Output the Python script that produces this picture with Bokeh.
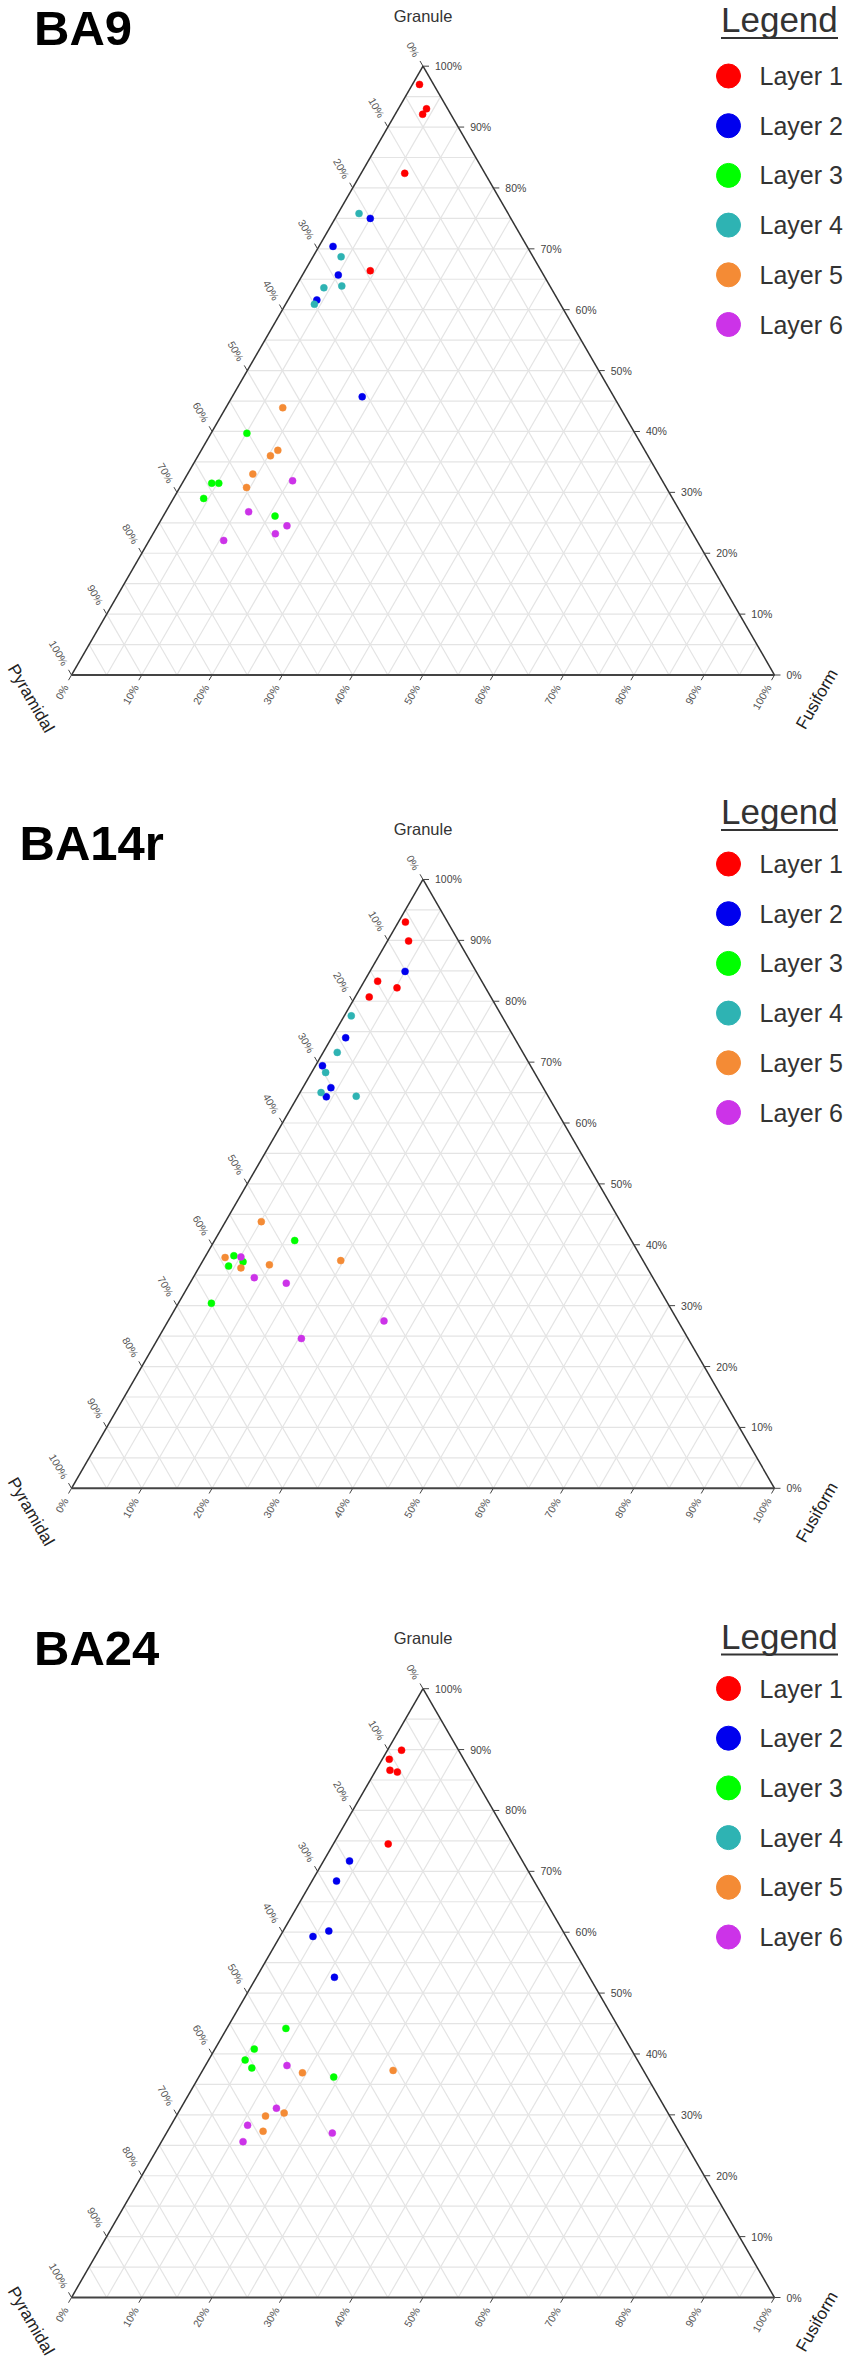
import math
from bokeh.plotting import figure
from bokeh.layouts import column
from bokeh.models import Range1d, ColumnDataSource
from bokeh.core.properties import value
from bokeh.embed import file_html
from bokeh.resources import INLINE

# ---------------- data ----------------
LAYER_NAMES = ["Layer 1", "Layer 2", "Layer 3", "Layer 4", "Layer 5", "Layer 6"]
LAYER_COLORS = ["#ff0000", "#0000ee", "#00ff00", "#2eb3b3", "#f48b35", "#cc33e8"]
AXIS_TITLES = ["Pyramidal", "Granule", "Fusiform"]
TICK_VALUES = [0, 10, 20, 30, 40, 50, 60, 70, 80, 90, 100]
TICK_LABELS = ["0%", "10%", "20%", "30%", "40%", "50%", "60%", "70%", "80%", "90%", "100%"]
PANEL_TITLES = ["BA9", "BA14r", "BA24"]

BA9_layer = [1, 1, 1, 1, 1, 2, 2, 2, 2, 2, 3, 3, 3, 3, 3, 4, 4, 4, 4, 4, 5, 5, 5, 5, 5, 6, 6, 6, 6, 6]
BA9_granule = [97.0, 93.0, 92.1, 82.4, 66.4, 75.0, 70.4, 65.7, 61.6, 45.7,
               39.7, 31.5, 31.5, 29.0, 26.1, 75.8, 68.7, 63.6, 63.9, 60.9,
               43.9, 36.9, 36.0, 33.0, 30.8, 31.9, 26.8, 24.5, 23.2, 22.1]
BA9_fusiform = [1.0, 4.0, 3.9, 6.2, 9.3, 5.0, 2.0, 5.1, 4.1, 18.5,
                5.1, 4.2, 5.2, 4.3, 15.9, 3.0, 4.0, 4.1, 6.5, 4.1,
                8.1, 10.9, 10.3, 9.3, 9.5, 15.5, 11.8, 18.4, 17.4, 10.6]
BA9_pyramidal = [2.0, 3.0, 4.0, 11.4, 24.3, 20.0, 27.6, 29.2, 34.3, 35.8,
                 55.2, 64.3, 63.3, 66.7, 58.0, 21.2, 27.3, 32.3, 29.6, 35.0,
                 48.0, 52.2, 53.7, 57.7, 59.7, 52.6, 61.4, 57.1, 59.4, 67.3]

BA14r_layer = [1, 1, 1, 1, 1, 2, 2, 2, 2, 2, 3, 3, 3, 3, 3, 4, 4, 4, 4, 4, 5, 5, 5, 5, 5, 6, 6, 6, 6, 6]
BA14r_granule = [93.0, 89.9, 83.3, 82.2, 80.7, 84.9, 74.0, 69.4, 65.8, 64.3,
                 40.7, 38.2, 37.2, 36.5, 30.4, 77.6, 71.6, 68.3, 65.0, 64.4,
                 43.8, 37.9, 36.2, 36.7, 37.4, 38.0, 34.6, 33.7, 27.5, 24.6]
BA14r_fusiform = [1.0, 3.0, 1.9, 5.2, 2.0, 5.0, 2.0, 1.0, 4.0, 4.1,
                  11.4, 4.0, 5.8, 4.1, 4.7, 1.0, 2.0, 2.0, 3.0, 8.3,
                  5.1, 2.9, 6.0, 9.8, 19.6, 5.1, 8.7, 13.7, 30.7, 20.4]
BA14r_pyramidal = [6.0, 7.1, 14.8, 12.6, 17.3, 10.1, 24.0, 29.6, 30.2, 31.6,
                   47.9, 57.8, 57.0, 59.4, 64.9, 21.4, 26.4, 29.7, 32.0, 27.3,
                   51.1, 59.2, 57.8, 53.5, 43.0, 56.9, 56.7, 52.6, 41.8, 55.0]

BA24_layer = [1, 1, 1, 1, 1, 2, 2, 2, 2, 2, 3, 3, 3, 3, 3, 5, 5, 5, 5, 5, 6, 6, 6, 6, 6]
BA24_granule = [89.9, 88.4, 86.6, 86.3, 74.5, 71.7, 68.4, 60.2, 59.3, 52.6,
                44.2, 40.8, 39.0, 37.7, 36.2, 36.9, 37.3, 29.8, 30.3, 27.3,
                38.1, 31.1, 28.3, 27.0, 25.6]
BA24_fusiform = [2.0, 1.0, 2.0, 3.2, 7.8, 3.7, 3.5, 6.5, 4.7, 11.1,
                 8.4, 5.6, 5.2, 6.8, 19.2, 14.4, 27.1, 12.7, 15.1, 13.6,
                 11.6, 13.6, 10.9, 23.6, 11.6]
BA24_pyramidal = [8.1, 10.6, 11.4, 10.5, 17.7, 24.6, 28.1, 33.3, 36.0, 36.3,
                  47.4, 53.6, 55.8, 55.5, 44.6, 48.7, 35.6, 57.5, 54.6, 59.1,
                  50.3, 55.3, 60.8, 49.4, 62.8]

# ---------------- layout (page pixels) ----------------
S = 703.0                 # pixels per unit side of the triangle
H = math.sqrt(3) / 2
LEFT_X = 71.0             # page x of the left vertex
FIG_W = 849
FONT = value("Liberation Sans")
TICK_COLOR = "#444444"

PANELS = [
    # fig_top, fig_h, base_y, title_x, title_base, legend_base, legend_first
    dict(top=0, h=760, base=674.5, tx=33.5, tb=45.0, lb=31.5, lf=75.5),
    dict(top=760, h=810, base=1487.8, tx=19.0, tb=860.0, lb=823.5, lf=863.5),
    dict(top=1570, h=789, base=2297.0, tx=33.5, tb=1665.0, lb=1648.0, lf=1688.0),
]


def make_panel(title, layer, gran, fus, pyr, cfg):
    top, fh, base = cfg["top"], cfg["h"], cfg["base"]
    base_s = base - top
    left_s = LEFT_X
    p = figure(width=FIG_W, height=fh,
               x_range=Range1d(-left_s / S, (FIG_W - left_s) / S),
               y_range=Range1d(-(fh - base_s) / S, base_s / S),
               x_axis_type=None, y_axis_type=None, toolbar_location=None,
               output_backend="svg", min_border=0, outline_line_color=None,
               background_fill_color="white", border_fill_color="white")

    def X(px):
        return (px - LEFT_X) / S

    def Y(py):
        return (base - py) / S

    d = 1.0 / S

    # grid every 5%
    gx, gy = [], []
    for k in range(1, 20):
        t = k / 20
        gx.append([t / 2, 1 - t / 2]); gy.append([t * H, t * H])
        gx.append([t, t + (1 - t) / 2]); gy.append([0, (1 - t) * H])
        gx.append([1 - t, (1 - t) / 2]); gy.append([0, (1 - t) * H])
    p.multi_line(gx, gy, line_color="#e4e4e4", line_width=1.2)

    # triangle edges
    p.multi_line([[0, 0.5], [0.5, 1]], [[0, H], [H, 0]], line_color="#333333", line_width=1.5)
    p.line([0, 1], [0, 0], line_color="#444444", line_width=2)

    # ticks and tick labels
    tx, ty = [], []
    lab = {"right": ([], [], []), "bottom": ([], [], []), "left": ([], [], [])}
    for tv, tl in zip(TICK_VALUES, TICK_LABELS):
        v = tv / 100
        # right axis (Granule)
        x0, y0 = 1 - v / 2, v * H
        tx.append([x0, x0 + 6 * d]); ty.append([y0, y0])
        lab["right"][0].append(x0 + 12 * d); lab["right"][1].append(y0); lab["right"][2].append(tl)
        # bottom axis (Fusiform)
        x0, y0 = v, 0.0
        dx, dy = -0.5, -H
        tx.append([x0, x0 + 6 * d * dx]); ty.append([y0, y0 + 6 * d * dy])
        lab["bottom"][0].append(x0 + 12 * d * dx); lab["bottom"][1].append(y0 + 12 * d * dy); lab["bottom"][2].append(tl)
        # left axis (Pyramidal)
        x0, y0 = (1 - v) / 2, (1 - v) * H
        dx, dy = -0.5, H
        tx.append([x0, x0 + 6 * d * dx]); ty.append([y0, y0 + 6 * d * dy])
        lab["left"][0].append(x0 + 12 * d * dx); lab["left"][1].append(y0 + 12 * d * dy); lab["left"][2].append(tl)
    p.multi_line(tx, ty, line_color="#444444", line_width=1)

    common = dict(text_font=FONT, text_font_size="10.5px", text_baseline="middle")
    p.text(x=lab["right"][0], y=lab["right"][1], text=lab["right"][2],
           text_align="left", text_color=TICK_COLOR, **common)
    p.text(x=lab["bottom"][0], y=lab["bottom"][1], text=lab["bottom"][2], angle=math.pi / 3,
           text_align="right", text_color="#555555", **common)
    p.text(x=lab["left"][0], y=lab["left"][1], text=lab["left"][2], angle=-math.pi / 3,
           text_align="right", text_color="#555555", **common)

    # axis titles
    p.text(x=[0.5], y=[H + 50.5 * d], text=[AXIS_TITLES[1]], text_font=FONT, text_font_size="16.5px",
           text_align="center", text_baseline="middle", text_color="#333333")
    p.text(x=[-40.5 * d], y=[-23.5 * d], text=[AXIS_TITLES[0]], angle=-math.pi / 3, text_font=FONT,
           text_font_size="17px", text_align="center", text_baseline="middle", text_color="#222222")
    p.text(x=[1 + 42.5 * d], y=[-24.0 * d], text=[AXIS_TITLES[2]], angle=math.pi / 3, text_font=FONT,
           text_font_size="17px", text_align="center", text_baseline="middle", text_color="#222222")

    # data points
    for i, (name, color) in enumerate(zip(LAYER_NAMES, LAYER_COLORS)):
        idx = [j for j, l in enumerate(layer) if l == i + 1]
        if not idx:
            continue
        g = [gran[j] / 100 for j in idx]
        f = [fus[j] / 100 for j in idx]
        src = ColumnDataSource(dict(
            x=[fi + gi / 2 for fi, gi in zip(f, g)],
            y=[gi * H for gi in g],
            pyramidal=[pyr[j] for j in idx],
        ))
        p.scatter("x", "y", source=src, size=7, fill_color=color, line_color=color, line_width=0.5)

    # panel title
    p.text(x=[X(cfg["tx"])], y=[Y(cfg["tb"] - 17.2)], text=[title], text_font=FONT, text_font_style="bold",
           text_font_size="49px", text_align="left", text_baseline="middle", text_color="#000000")

    # legend
    lx = 720.5
    p.text(x=[X(lx)], y=[Y(cfg["lb"] - 12.3)], text=["Legend"], text_font=FONT, text_font_size="35px",
           text_align="left", text_baseline="middle", text_color="#333333")
    p.segment(x0=[X(lx)], y0=[Y(cfg["lb"] + 6)], x1=[X(lx + 117)], y1=[Y(cfg["lb"] + 6)],
              line_color="#333333", line_width=2)
    ly = [Y(cfg["lf"] + i * 49.7) for i in range(len(LAYER_NAMES))]
    p.scatter(x=[X(728)] * len(LAYER_NAMES), y=ly, size=24, fill_color=LAYER_COLORS,
              line_color=LAYER_COLORS)
    p.text(x=[X(759)] * len(LAYER_NAMES), y=ly, text=LAYER_NAMES, text_font=FONT,
           text_font_size="25px", text_align="left", text_baseline="middle", text_color="#333333")
    return p


p1 = make_panel(PANEL_TITLES[0], BA9_layer, BA9_granule, BA9_fusiform, BA9_pyramidal, PANELS[0])
p2 = make_panel(PANEL_TITLES[1], BA14r_layer, BA14r_granule, BA14r_fusiform, BA14r_pyramidal, PANELS[1])
p3 = make_panel(PANEL_TITLES[2], BA24_layer, BA24_granule, BA24_fusiform, BA24_pyramidal, PANELS[2])

p = column(p1, p2, p3, spacing=0)
open("out.html", "w").write(file_html(p, INLINE))
